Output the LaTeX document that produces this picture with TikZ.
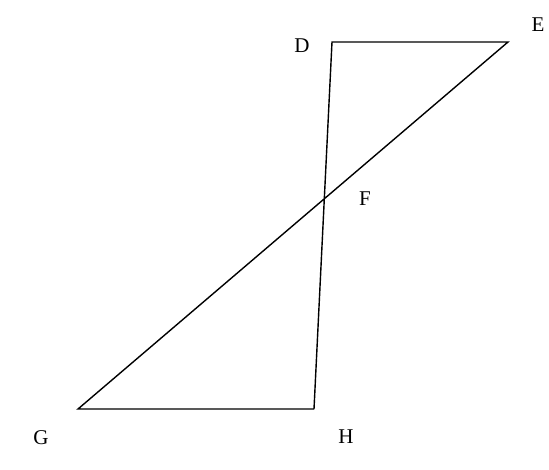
\documentclass[tikz,border=0pt]{standalone}
\usepackage{fontspec}
\setmainfont{Liberation Serif}
\begin{document}
\begin{tikzpicture}[x=1pt,y=-1pt,
  edge/.style={line width=1.4pt,line join=miter},
  lbl/.style={font=\fontsize{21}{24}\selectfont,inner sep=0pt}]
\useasboundingbox[fill=white] (0,0) rectangle (549,469);
\coordinate (D) at (332,42);
\coordinate (E) at (508,42);
\coordinate (G) at (78,409);
\coordinate (H) at (314,409);
\draw[edge] (H) -- (D) -- (E) -- (G) -- (H);
\node[lbl] (lD) at (302,46) {D};
\node[lbl] (lE) at (538,25) {E};
\node[lbl] (lF) at (365,199) {F};
\node[lbl] (lG) at (41,438) {G};
\node[lbl] (lH) at (346,437) {H};
\end{tikzpicture}
\end{document}
